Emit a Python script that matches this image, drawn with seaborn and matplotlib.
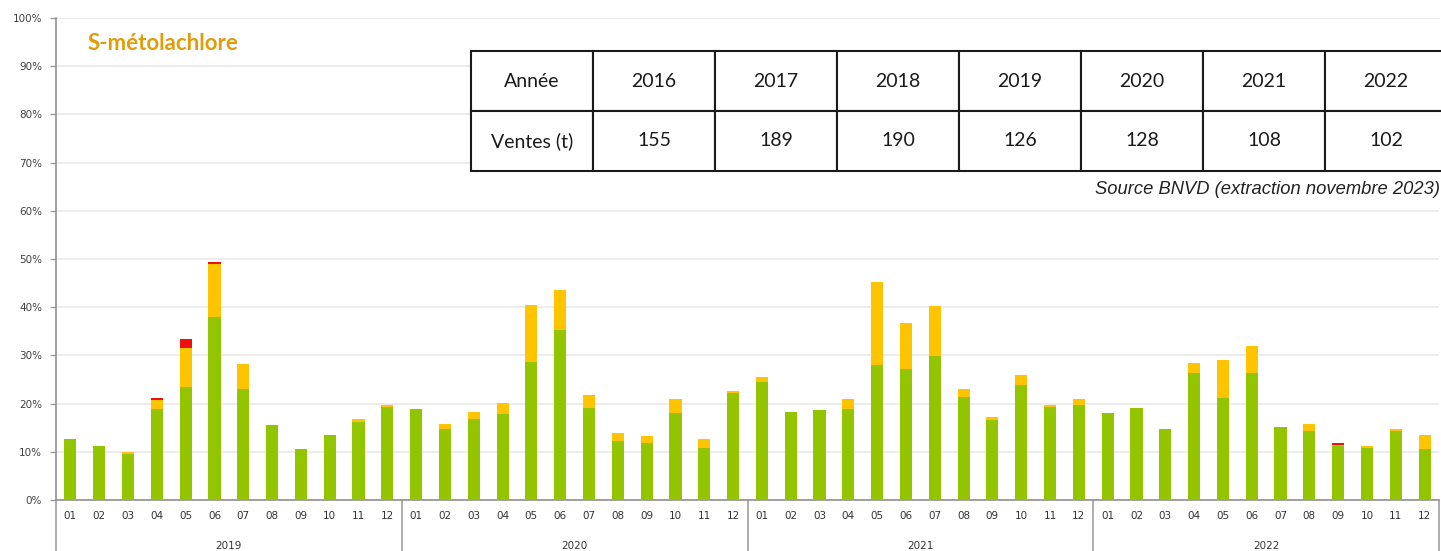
import numpy as np
import pandas as pd
import matplotlib
matplotlib.use("Agg")
import matplotlib.pyplot as plt
import matplotlib.transforms as mtransforms
import seaborn as sns

# ---------------- data ----------------
years = ["2019", "2020", "2021", "2022"]
months = ["01", "02", "03", "04", "05", "06", "07", "08", "09", "10", "11", "12"]

green = [12.7, 11.1, 9.6, 18.8, 23.4, 37.9, 23.1, 15.5, 10.5, 13.4, 16.2, 19.3,
         18.8, 14.8, 16.8, 17.9, 28.7, 35.2, 19.1, 12.2, 11.8, 18.1, 10.7, 22.2,
         24.5, 18.3, 18.6, 18.8, 28.1, 27.1, 29.9, 21.3, 16.5, 23.8, 19.3, 19.8,
         18.0, 19.0, 14.7, 26.3, 21.1, 26.3, 15.1, 14.4, 11.1, 10.7, 14.3, 10.5]
yellow = [0.0, 0.0, 0.4, 2.0, 8.2, 11.1, 5.2, 0.0, 0.0, 0.0, 0.6, 0.5,
          0.0, 1.0, 1.5, 2.2, 11.7, 8.4, 2.6, 1.7, 1.4, 2.8, 1.9, 0.4,
          1.0, 0.0, 0.0, 2.1, 17.2, 9.6, 10.4, 1.8, 0.7, 2.2, 0.5, 1.1,
          0.0, 0.0, 0.0, 2.1, 8.0, 5.6, 0.0, 1.3, 0.3, 0.4, 0.5, 2.9]
red = [0.0, 0.0, 0.0, 0.4, 1.9, 0.4, 0.0, 0.0, 0.0, 0.0, 0.0, 0.0,
       0.0, 0.0, 0.0, 0.0, 0.0, 0.0, 0.0, 0.0, 0.0, 0.0, 0.0, 0.0,
       0.0, 0.0, 0.0, 0.0, 0.0, 0.0, 0.0, 0.0, 0.0, 0.0, 0.0, 0.0,
       0.0, 0.0, 0.0, 0.0, 0.0, 0.0, 0.0, 0.0, 0.5, 0.0, 0.0, 0.0]

table_years = ["2016", "2017", "2018", "2019", "2020", "2021", "2022"]
table_sales = ["155", "189", "190", "126", "128", "108", "102"]

title = "S-métolachlore"
source = "Source BNVD (extraction novembre 2023)"

# ---------------- build frame ----------------
periods = [f"{y}-{m}" for y in years for m in months]
df = pd.DataFrame({"period": periods, "green": green, "yellow": yellow, "red": red})
df["gy"] = df["green"] + df["yellow"]
df["gyr"] = df["gy"] + df["red"]

C_GREEN = "#93C400"
C_YELLOW = "#FFC400"
C_RED = "#EE1010"

sns.set_theme(style="white")
plt.rcParams["font.family"] = ["DejaVu Sans"]

W, H = 1441, 551
fig = plt.figure(figsize=(W / 100, H / 100), dpi=100)
x0, x1, ytop, ybot = 56, 1439, 18, 500
ax = fig.add_axes([x0 / W, (H - ybot) / H, (x1 - x0) / W, (ybot - ytop) / H])

bw = 0.42
for col, c in [("gyr", C_RED), ("gy", C_YELLOW), ("green", C_GREEN)]:
    sns.barplot(data=df, x="period", y=col, order=periods, color=c,
                saturation=1, width=bw, linewidth=0, ax=ax, zorder=3)

ax.set_xlim(-0.5, len(periods) - 0.5)
ax.set_ylim(0, 100)
ax.set_yticks(np.arange(0, 101, 10))
ax.set_yticklabels([f"{v}%" for v in range(0, 101, 10)], fontsize=7.5, color="#404040")
ax.yaxis.grid(True, color="#EAEAEA", linewidth=1.3, zorder=0)
ax.set_axisbelow(True)
ax.set_xlabel("")
ax.set_ylabel("")
ax.set_xticks(range(len(periods)))
ax.set_xticklabels(months * len(years), fontsize=7.5, color="#333333")
ax.tick_params(axis="x", length=0, pad=8)
ax.tick_params(axis="y", length=4, width=1, color="#999999", pad=6, left=True)

for s in ["top", "right"]:
    ax.spines[s].set_visible(False)
ax.spines["left"].set_color("#909090")
ax.spines["left"].set_linewidth(1.2)
ax.spines["bottom"].set_color("#909090")
ax.spines["bottom"].set_linewidth(1.2)

# year separators and labels below the axis
trans = mtransforms.blended_transform_factory(ax.transData, ax.transAxes)
ext = -(H - ybot) / (ybot - ytop)
for i in range(len(years) + 1):
    xb = i * 12 - 0.5
    ax.plot([xb, xb], [0, ext], transform=trans, color="#A0A0A0", lw=1.2, clip_on=False)
for i, y in enumerate(years):
    ax.text(i * 12 + 5.5, -0.095, y, transform=trans, ha="center", va="center",
            fontsize=7.5, color="#333333")

# title
fig.text(88 / W, 1 - 44 / H, title, fontsize=16, fontweight="bold", color="#E09C0A",
         family=["Lato", "DejaVu Sans"], ha="left", va="center")

# table
tx0, ty0, tx1, ty1 = 471, 51, 471 + 8 * 122, 171
tax = fig.add_axes([tx0 / W, (H - ty1) / H, (tx1 - tx0) / W, (ty1 - ty0) / H])
tax.set_axis_off()
cells = [["Année"] + table_years, ["Ventes (t)"] + table_sales]
tbl = tax.table(cellText=cells, cellLoc="center", bbox=[0, 0, 1, 1])
tbl.auto_set_font_size(False)
for (r, c), cell in tbl.get_celld().items():
    cell.set_linewidth(1.5)
    cell.set_edgecolor("#1a1a1a")
    cell.get_text().set_fontsize(14)
    cell.get_text().set_family(["Lato", "DejaVu Sans"])
    cell.get_text().set_color("#1a1a1a")

# source
fig.text(1 - 1 / W, 1 - 189 / H, source, fontsize=13.2, style="italic",
         family=["Liberation Sans", "DejaVu Sans"], color="#222222", ha="right", va="center")

fig.savefig("out.png", dpi=100)
